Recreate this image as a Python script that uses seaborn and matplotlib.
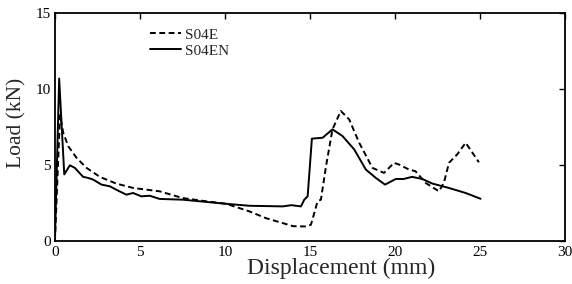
import numpy as np
import pandas as pd
import matplotlib
matplotlib.use("Agg")
import matplotlib.pyplot as plt
import seaborn as sns

# S04E (dashed)
s04e_disp = [0, 0.3, 0.49, 0.78, 1.27, 1.86, 2.64, 3.6, 4.6, 6.16, 7.5, 8.8,
             10.07, 11.44, 12.4, 13.4, 14.0, 14.76, 15.05, 15.25, 15.44, 15.64,
             15.94, 16.32, 16.81, 17.3, 17.89, 18.67, 19.35, 19.94, 20.23, 20.82,
             21.2, 21.8, 22.58, 22.87, 23.17, 23.65, 24.15, 24.93]
s04e_load = [0, 8.3, 7.14, 6.26, 5.49, 4.83, 4.24, 3.8, 3.51, 3.29, 2.85, 2.65,
             2.47, 1.97, 1.53, 1.2, 1.0, 0.98, 1.09, 1.86, 2.63, 2.74,
             4.94, 7.36, 8.57, 8.02, 6.48, 4.83, 4.5, 5.16, 5.05, 4.72,
             4.61, 3.84, 3.29, 3.84, 5.16, 5.71, 6.48, 5.2]

# S04EN (solid)
s04en_disp = [0, 0.25, 0.55, 0.88, 1.17, 1.66, 1.95, 2.25, 2.74, 3.23, 3.6, 4.2,
              4.6, 5.08, 5.57, 6.16, 7.52, 10.07, 11.44, 13.4, 13.9, 14.47, 14.66,
              14.86, 15.11, 15.74, 16.32, 16.91, 17.6, 18.28, 18.87, 19.41, 20.04,
              20.5, 21.0, 21.6, 22.19, 23.17, 24.15, 25.03]
s04en_load = [0, 10.7, 4.4, 5.0, 4.83, 4.24, 4.17, 4.06, 3.73, 3.62, 3.4, 3.07,
              3.18, 2.96, 3.0, 2.79, 2.74, 2.47, 2.34, 2.3, 2.38, 2.3, 2.74,
              2.96, 6.75, 6.81, 7.36, 6.92, 6.04, 4.72, 4.17, 3.73, 4.1,
              4.1, 4.24, 4.1, 3.8, 3.51, 3.18, 2.8]

df_e = pd.DataFrame({"disp": s04e_disp, "load": s04e_load})
df_en = pd.DataFrame({"disp": s04en_disp, "load": s04en_load})

sns.set_style("white")
plt.rcParams["font.family"] = ["Liberation Serif", "DejaVu Serif"]

fig = plt.figure(figsize=(5.72, 2.84), dpi=100)
ax = fig.add_axes([0.096, 0.15, 0.892, 0.804])

sns.lineplot(data=df_e, x="disp", y="load", ax=ax, color="black", lw=1.4,
             linestyle=(0, (3.0, 1.8)), label="S04E", sort=False)
sns.lineplot(data=df_en, x="disp", y="load", ax=ax, color="black", lw=1.4,
             label="S04EN", sort=False)

ax.set_xlim(0, 30)
ax.set_ylim(0, 15)
ax.set_xticks([0, 5, 10, 15, 20, 25, 30])
ax.set_yticks([0, 5, 10, 15])
ax.tick_params(direction="in", top=True, right=True, length=4, width=1,
               labelsize=11, pad=3, colors="black")
for s in ax.spines.values():
    s.set_color("black")
    s.set_linewidth(1.3)

ax.set_xlabel("Displacement (mm)", fontsize=17)
ax.set_ylabel("Load (kN)", fontsize=15.5)
ax.xaxis.set_label_coords(0.56, -0.07)
ax.yaxis.set_label_coords(-0.055, 0.52)

leg = ax.legend(loc="upper left", bbox_to_anchor=(0.16, 0.995), frameon=False,
                fontsize=11, handlelength=2.0, handletextpad=0.3,
                labelspacing=0.15)

fig.savefig("out.png", dpi=100)
